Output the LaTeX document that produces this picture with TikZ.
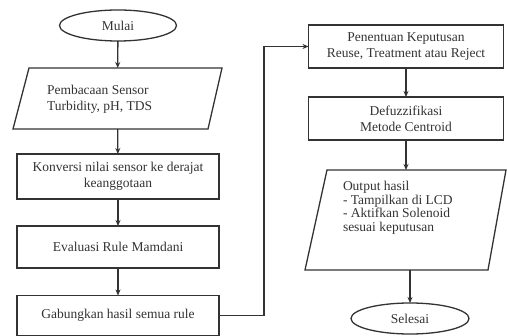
\documentclass[tikz,border=0pt]{standalone}
\usepackage{fontspec}
\setmainfont{Liberation Serif}
\usetikzlibrary{arrows.meta,shapes.geometric,calc}
\definecolor{lc}{HTML}{333333}
\definecolor{tc}{HTML}{333333}
\begin{document}
\begin{tikzpicture}[x=1pt,y=-1pt,
  line width=1.3pt,
  every node/.style={inner sep=0pt,outer sep=0pt,text=tc,font=\fontsize{13.5}{16}\selectfont},
  procbox/.style={draw=lc,rectangle,align=center},
  term/.style={draw=lc,ellipse,minimum width=117pt,minimum height=31pt},
  pshape/.style={rectangle},
  txt/.style={align=left},
  arr/.style={draw=lc,-{Stealth[length=6pt,width=5pt]}}]
\useasboundingbox (0,0) rectangle (507,336);
% left column
\node[term] (start) at (118,25.5) {Mulai};
\node[pshape,minimum width=209pt,minimum height=61pt] (read) at (117.5,98.5) {};
\draw[lc] (29,68) -- (222,68) -- (208,129) -- (13,129) -- cycle;
\node[txt,anchor=west] (readt) at (47,99) {Pembacaan Sensor\\Turbidity, pH, TDS};
\node[procbox,minimum width=202pt,minimum height=45pt] (conv) at (118,176.5) {Konversi nilai sensor ke derajat\\keanggotaan};
\node[procbox,minimum width=202pt,minimum height=42pt] (eval) at (118,247) {Evaluasi Rule Mamdani};
\node[procbox,minimum width=202pt,minimum height=40pt] (gab) at (118,315.5) {Gabungkan hasil semua rule};
% right column
\node[procbox,minimum width=195pt,minimum height=43pt] (pen) at (406,46.5) {Penentuan Keputusan\\Reuse, Treatment atau Reject};
\node[procbox,minimum width=195pt,minimum height=43pt] (def) at (406,118.5) {Defuzzifikasi\\Metode Centroid};
\node[pshape,minimum width=201pt,minimum height=100pt] (out) at (406,220) {};
\draw[lc] (327,170) -- (506,170) -- (488,270) -- (305,270) -- cycle;
\node[txt,anchor=west,font=\fontsize{13.5}{13.5}\selectfont] (outt) at (343,208) {Output hasil\\- Tampilkan di LCD\\- Aktifkan Solenoid\\sesuai keputusan};
\node[term,minimum width=118pt] (end) at (410,318.5) {Selesai};
% connectors
\draw[arr] (start) -- (read);
\draw[arr] (read) -- (conv);
\draw[arr] (conv) -- (eval);
\draw[arr] (eval) -- (gab);
\draw[arr] (gab.east) -- ++(45,0) |- (pen.west);
\draw[arr] (pen) -- (def);
\draw[arr] (def) -- (out);
\draw[arr] (out.south -| end.north) -- (end.north);
\end{tikzpicture}
\end{document}
